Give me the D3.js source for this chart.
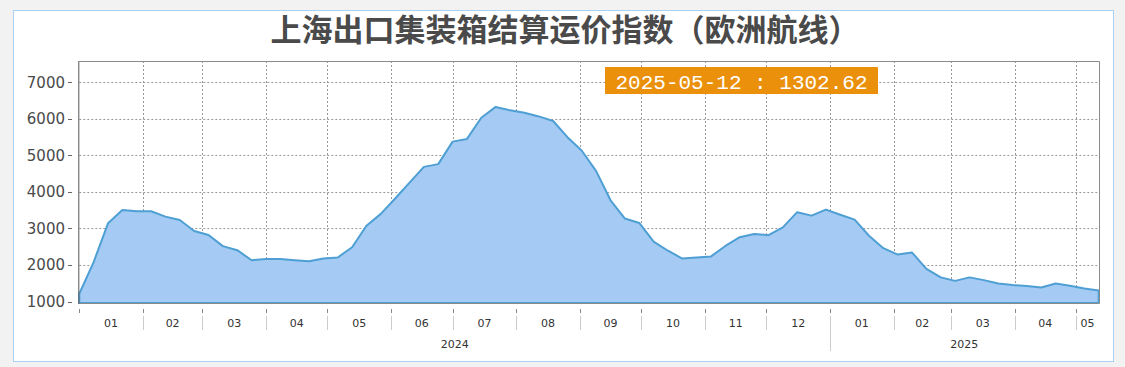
<!DOCTYPE html>
<html>
<head>
<meta charset="utf-8">
<script src="https://cdn.jsdelivr.net/npm/d3@7"></script>
<style>
  body { margin: 0; background: #f2f2f2; }
  svg { display: block; }
</style>
</head>
<body>
<svg class="chart"></svg>
<script>
// weekly SCFIS Europe values (Mondays)
const dates = [
  '2024-01-01', '2024-01-08', '2024-01-15', '2024-01-22', '2024-01-29',
  '2024-02-05', '2024-02-12', '2024-02-19', '2024-02-26',
  '2024-03-04', '2024-03-11', '2024-03-18', '2024-03-25',
  '2024-04-01', '2024-04-08', '2024-04-15', '2024-04-22', '2024-04-29',
  '2024-05-06', '2024-05-13', '2024-05-20', '2024-05-27',
  '2024-06-03', '2024-06-10', '2024-06-17', '2024-06-24',
  '2024-07-01', '2024-07-08', '2024-07-15', '2024-07-22', '2024-07-29',
  '2024-08-05', '2024-08-12', '2024-08-19', '2024-08-26',
  '2024-09-02', '2024-09-09', '2024-09-16', '2024-09-23', '2024-09-30',
  '2024-10-07', '2024-10-14', '2024-10-21', '2024-10-28',
  '2024-11-04', '2024-11-11', '2024-11-18', '2024-11-25',
  '2024-12-02', '2024-12-09', '2024-12-16', '2024-12-23', '2024-12-30',
  '2025-01-06', '2025-01-13', '2025-01-20', '2025-01-27',
  '2025-02-03', '2025-02-10', '2025-02-17', '2025-02-24',
  '2025-03-03', '2025-03-10', '2025-03-17', '2025-03-24', '2025-03-31',
  '2025-04-07', '2025-04-14', '2025-04-21', '2025-04-28',
  '2025-05-05', '2025-05-12'
];

const values = [
  1212, 2080, 3140, 3507, 3470, 3470, 3323, 3231, 2928, 2818,
  2515, 2405, 2130, 2165, 2165, 2130, 2100, 2175, 2205, 2486,
  3075, 3398, 3820, 4254, 4685, 4760, 5376, 5450, 6030, 6326,
  6232, 6168, 6066, 5940, 5497, 5127, 4570, 3770, 3270, 3150,
  2640, 2390, 2175, 2205, 2235, 2520, 2760, 2850, 2815, 3030,
  3445, 3350, 3516, 3375, 3240, 2800, 2460, 2285, 2340, 1895,
  1660, 1565, 1660, 1585, 1495, 1450, 1425, 1385, 1495, 1430,
  1355, 1302.62
];

const yTicks = [1000, 2000, 3000, 4000, 5000, 6000, 7000];
const title = '上海出口集装箱结算运价指数（欧洲航线）';

const parse = d3.timeParse('%Y-%m-%d');
const data = dates.map((d, i) => ({ date: parse(d), value: values[i] }));

const svgWidth = 1125;
const svgHeight = 367;
const plot = { left: 79.3, right: 1099, top: 61, bottom: 303 };

const svg = d3.select('.chart')
  .attr('width', svgWidth)
  .attr('height', svgHeight);

// outer frame
svg.append('rect')
  .attr('x', 13.5).attr('y', 10.5)
  .attr('width', 1100).attr('height', 351)
  .attr('fill', '#fff')
  .attr('stroke', '#a9d1f3');

svg.append('text')
  .attr('x', 565)
  .attr('y', 41)
  .attr('text-anchor', 'middle')
  .attr('font-family', '"Noto Sans CJK SC", sans-serif')
  .attr('font-weight', 'bold')
  .attr('font-size', '31px')
  .attr('fill', '#4a4a4a')
  .text(title);

const xScale = d3.scaleTime()
  .domain([data[0].date, data[data.length - 1].date])
  .range([plot.left, plot.right - 0.3]);

const yScale = d3.scaleLinear()
  .domain([1000, 7000])
  .range([301.5, 82.3]);

// grid
const grid = svg.append('g')
  .attr('stroke', '#999')
  .attr('stroke-width', 1)
  .attr('stroke-dasharray', '2,2');

const monthStarts = d3.timeMonth.range(d3.timeMonth.ceil(xScale.domain()[0]), xScale.domain()[1]);

grid.selectAll('.hgrid')
  .data(yTicks.filter(v => v > 1000))
  .enter()
  .append('line')
  .attr('x1', plot.left).attr('x2', plot.right)
  .attr('y1', d => Math.round(yScale(d)) + 0.5)
  .attr('y2', d => Math.round(yScale(d)) + 0.5);

grid.selectAll('.vgrid')
  .data(monthStarts.slice(1))
  .enter()
  .append('line')
  .attr('x1', d => Math.round(xScale(d)) + 0.5)
  .attr('x2', d => Math.round(xScale(d)) + 0.5)
  .attr('y1', plot.top).attr('y2', plot.bottom);

// area
const area = d3.area()
  .x(d => xScale(d.date))
  .y0(plot.bottom)
  .y1(d => yScale(d.value));

svg.append('path')
  .datum(data)
  .attr('fill', '#a5cbf5')
  .attr('stroke', '#4e9fd3')
  .attr('stroke-width', 2)
  .attr('stroke-linejoin', 'round')
  .attr('d', area);

// plot frame
svg.append('path')
  .attr('d', `M${plot.left},${plot.top + 0.5}H${plot.right + 0.5}V${plot.bottom}`)
  .attr('fill', 'none')
  .attr('stroke', '#8a8a8a');
svg.append('line')
  .attr('x1', plot.left).attr('x2', plot.right + 0.5)
  .attr('y1', plot.bottom + 0.5).attr('y2', plot.bottom + 0.5)
  .attr('stroke', '#8a8a8a');
svg.append('line')
  .attr('x1', plot.left - 0.5).attr('x2', plot.left - 0.5)
  .attr('y1', plot.top).attr('y2', plot.bottom + 1)
  .attr('stroke', '#555');

// y axis labels
const yAxis = svg.append('g');
yAxis.selectAll('.ytick')
  .data(yTicks)
  .enter()
  .append('line')
  .attr('x1', 68).attr('x2', 72)
  .attr('y1', d => Math.round(yScale(d)) + 0.5)
  .attr('y2', d => Math.round(yScale(d)) + 0.5)
  .attr('stroke', '#666');
yAxis.selectAll('.ylabel')
  .data(yTicks)
  .enter()
  .append('text')
  .attr('x', 65)
  .attr('y', d => yScale(d))
  .attr('dy', '0.36em')
  .attr('text-anchor', 'end')
  .attr('font-family', '"DejaVu Sans", sans-serif')
  .attr('font-size', '15px')
  .attr('fill', '#4a4a4a')
  .text(d => d);

// x axis: month ticks, separators, labels
const xAxis = svg.append('g');
const allBounds = [xScale.domain()[0]].concat(monthStarts.filter(d => +d > +xScale.domain()[0]));

xAxis.selectAll('.xtick')
  .data(allBounds)
  .enter()
  .append('line')
  .attr('x1', d => Math.round(xScale(d)) + 0.5)
  .attr('x2', d => Math.round(xScale(d)) + 0.5)
  .attr('y1', 309).attr('y2', 313)
  .attr('stroke', '#888');

xAxis.selectAll('.xsep')
  .data(allBounds.slice(1))
  .enter()
  .append('line')
  .attr('x1', d => Math.round(xScale(d)) + 0.5)
  .attr('x2', d => Math.round(xScale(d)) + 0.5)
  .attr('y1', 316)
  .attr('y2', d => d.getMonth() === 0 ? 351 : 330)
  .attr('stroke', '#ccc');

const monthFmt = d3.timeFormat('%m');
xAxis.selectAll('.xlabel')
  .data(allBounds)
  .enter()
  .append('text')
  .attr('x', (d, i) => {
    const next = i < allBounds.length - 1 ? allBounds[i + 1] : xScale.domain()[1];
    return (xScale(d) + xScale(next)) / 2;
  })
  .attr('y', 327)
  .attr('text-anchor', 'middle')
  .attr('font-family', '"DejaVu Sans", sans-serif')
  .attr('font-size', '11px')
  .attr('fill', '#333')
  .text(d => monthFmt(d));

const years = d3.timeYear.range(d3.timeYear.floor(xScale.domain()[0]), xScale.domain()[1]);
xAxis.selectAll('.ylab')
  .data(years)
  .enter()
  .append('text')
  .attr('x', d => {
    const a = Math.max(+d, +xScale.domain()[0]);
    const b = Math.min(+d3.timeYear.offset(d, 1), +xScale.domain()[1]);
    return (xScale(a) + xScale(b)) / 2;
  })
  .attr('y', 348)
  .attr('text-anchor', 'middle')
  .attr('font-family', '"DejaVu Sans", sans-serif')
  .attr('font-size', '11px')
  .attr('fill', '#333')
  .text(d => d3.timeFormat('%Y')(d));

// last value label
const last = data[data.length - 1];
const tip = svg.append('g');
tip.append('rect')
  .attr('x', 605).attr('y', 67)
  .attr('width', 273).attr('height', 27)
  .attr('fill', '#ea900b');
tip.append('text')
  .attr('x', 741.5)
  .attr('y', 81)
  .attr('dy', '0.36em')
  .attr('text-anchor', 'middle')
  .attr('font-family', '"Liberation Mono", monospace')
  .attr('font-size', '21px')
  .attr('fill', '#fff')
  .text(`${d3.timeFormat('%Y-%m-%d')(last.date)} : ${last.value.toFixed(2)}`);
</script>
</body>
</html>
